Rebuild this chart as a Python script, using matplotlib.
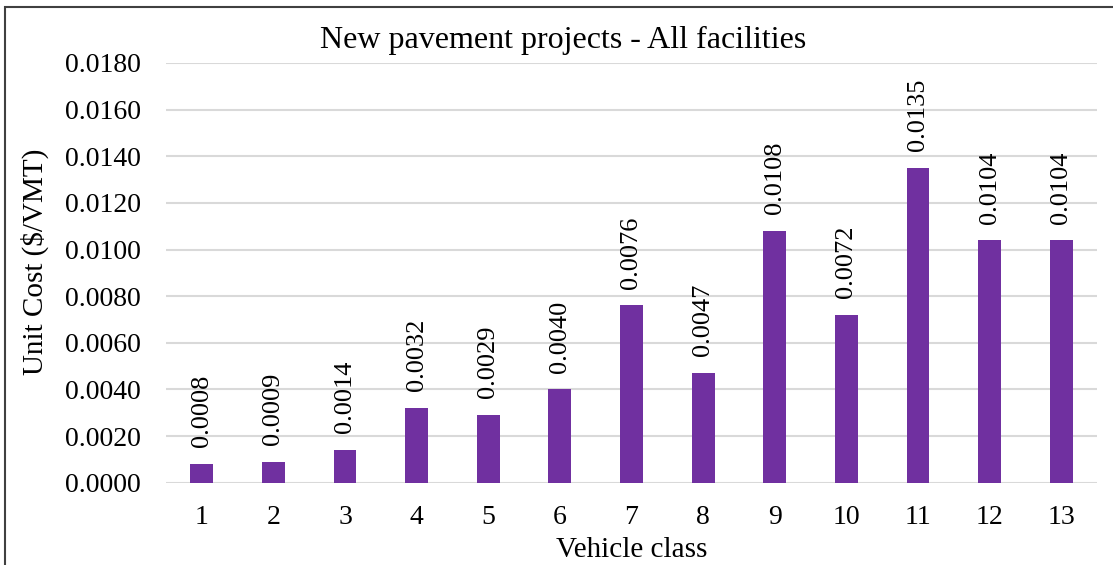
import matplotlib.pyplot as plt
from matplotlib.patches import Rectangle

classes = [str(i) for i in range(1, 14)]
unit_cost = [0.0008, 0.0009, 0.0014, 0.0032, 0.0029, 0.0040, 0.0076,
             0.0047, 0.0108, 0.0072, 0.0135, 0.0104, 0.0104]
yticks = [0.0, 0.002, 0.004, 0.006, 0.008, 0.010, 0.012, 0.014, 0.016, 0.018]

plt.rcParams['font.family'] = ['Liberation Serif', 'DejaVu Serif']

fig = plt.figure(figsize=(11.13, 5.65), dpi=100)
ax = fig.add_axes([166 / 1113, 1 - 482.7 / 565, (1097 - 166) / 1113, (482.7 - 63) / 565])

x = list(range(1, len(classes) + 1))
bars = ax.bar(x, unit_cost, width=0.32, color='#7030A0', zorder=3)
for xi, v in zip(x, unit_cost):
    ax.annotate(f"{v:.4f}", (xi, v), xytext=(0, 12), textcoords='offset points',
                rotation=90, ha='center', va='bottom', fontsize=19)

ax.set_xlim(0.5, 13.5)
ax.set_ylim(0, 0.018)
ax.set_yticks(yticks)
ax.set_yticklabels([f"{t:.4f}" for t in yticks], fontsize=20)
ax.set_xticks(x)
ax.set_xticklabels(classes, fontsize=20)
ax.tick_params(axis='both', length=0)
ax.tick_params(axis='y', pad=18)
ax.tick_params(axis='x', pad=16)
ax.grid(axis='y', color='#D9D9D9', linewidth=1.5, zorder=0)
for s in ax.spines.values():
    s.set_visible(False)

# axis titles placed where the reference has them
fig.text(35 / 1113, 1 - 262 / 565, "Unit Cost ($/VMT)", rotation=90,
         ha='center', va='center', fontsize=21)
fig.text(632 / 1113, 1 - 550 / 565, "Vehicle class",
         ha='center', va='center', fontsize=21)
fig.text(563 / 1113, 1 - 40 / 565, "New pavement projects - All facilities",
         ha='center', va='center', fontsize=23)

fig.patches.append(Rectangle((5 / 1113, -0.05), 1.1, 1 - 7 / 565 + 0.05,
                             transform=fig.transFigure, fill=False,
                             edgecolor='#404040', linewidth=1.5))

fig.savefig("out.png", dpi=100)
